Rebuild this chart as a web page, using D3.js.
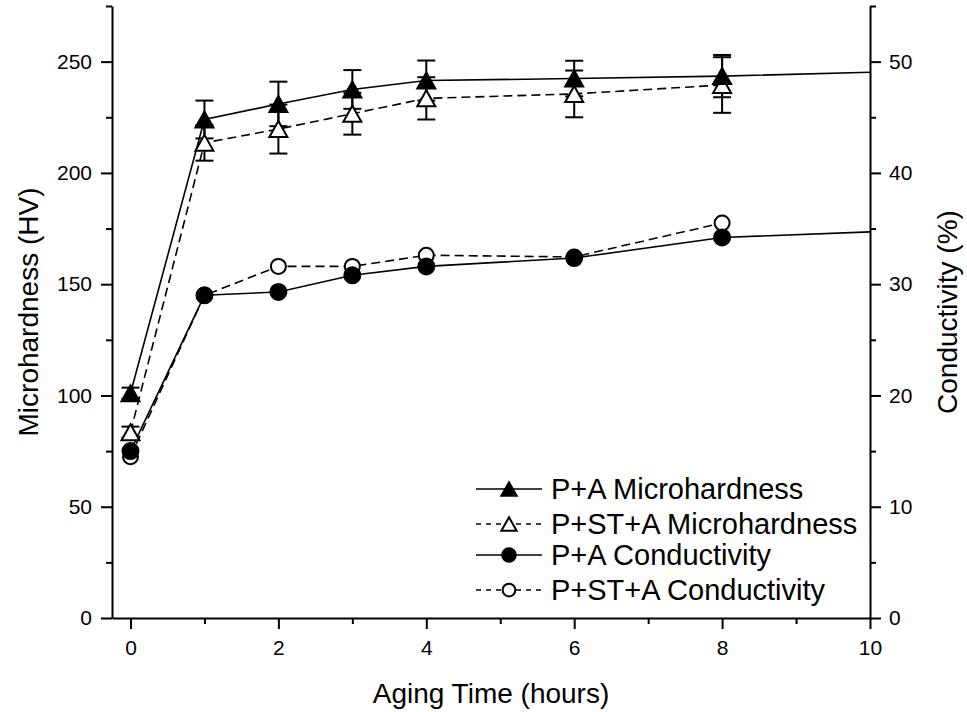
<!DOCTYPE html>
<html>
<head>
<meta charset="utf-8">
<script src="https://cdn.jsdelivr.net/npm/d3@7"></script>
<style>
  body { margin: 0; background: #fff; }
  svg { display: block; }
  text { font-family: "Liberation Sans", Arial, Helvetica, sans-serif; fill: #000; }
</style>
</head>
<body>
<svg id="chart" width="967" height="712"></svg>
<script>
// Aging time (hours) for every measurement
const hours = [0, 1, 2, 3, 4, 6, 8];

// Microhardness (HV) with standard deviation
const paHardness      = [101, 224, 231, 237.5, 241.5, 242.4, 243.5];
const paHardnessErr   = [2.5, 8.5, 10, 8.7, 9, 8, 9.5];
const pstaHardness    = [83.5, 213.5, 219.7, 226.6, 233.5, 235.5, 239.5];
const pstaHardnessErr = [2.5, 8, 11, 9.4, 9.5, 10.5, 12.5];

// Electrical conductivity (%)
const paConductivity   = [15.0, 29.0, 29.3, 30.8, 31.6, 32.35, 34.2];
const pstaConductivity = [14.5, 29.0, 31.6, 31.6, 32.6, 32.45, 35.5];

// The solid P+A curves are continued to the end of the time axis
const trendEndHour = 10;
const paHardnessTrendEnd = 245.2;
const paConductivityTrendEnd = 34.7;

// Tick values
const xTicks = [0, 2, 4, 6, 8, 10];
const xMinorTicks = [1, 3, 5, 7, 9];
const hardTicks = [0, 50, 100, 150, 200, 250];
const hardMinorTicks = [25, 75, 125, 175, 225, 275];
const condTicks = [0, 10, 20, 30, 40, 50];
const condMinorTicks = [5, 15, 25, 35, 45, 55];

const legendLabels = ["P+A Microhardness", "P+ST+A Microhardness", "P+A Conductivity", "P+ST+A Conductivity"];

const svg = d3.select("#chart");

const x = d3.scaleLinear().domain([-0.25, 10]).range([112, 870]);
const yH = d3.scaleLinear().domain([0, 275]).range([618, 6]);
const yC = d3.scaleLinear().domain([0, 55]).range([618, 6]);

const DASH = "9,5";

// ---------- axes ----------
function styleAxis(g, width) {
  g.selectAll("path.domain").attr("stroke", "#000").attr("stroke-width", width);
  g.selectAll(".tick line").attr("stroke", "#000").attr("stroke-width", 2);
  g.selectAll(".tick text").style("font-size", "21px").attr("fill", "#000");
}

// bottom axis
const gx = svg.append("g").attr("transform", "translate(0,618)");
gx.call(d3.axisBottom(x).tickValues(xTicks).tickSize(11).tickSizeOuter(0).tickPadding(11).tickFormat(d3.format("d")));
styleAxis(gx, 2);
const gxm = svg.append("g").attr("transform", "translate(0,618)");
gxm.call(d3.axisBottom(x).tickValues(xMinorTicks).tickSize(6).tickFormat(""));
gxm.select("path.domain").remove();
styleAxis(gxm, 2);

// left axis
const gl = svg.append("g").attr("transform", "translate(112,0)");
gl.call(d3.axisLeft(yH).tickValues(hardTicks).tickSize(11).tickSizeOuter(0).tickPadding(9).tickFormat(d3.format("d")));
styleAxis(gl, 2);
const glm = svg.append("g").attr("transform", "translate(112,0)");
glm.call(d3.axisLeft(yH).tickValues(hardMinorTicks).tickSize(6).tickFormat(""));
glm.select("path.domain").remove();
styleAxis(glm, 2);

// right axis
const gr = svg.append("g").attr("transform", "translate(870,0)");
gr.call(d3.axisRight(yC).tickValues(condTicks).tickSize(11).tickSizeOuter(0).tickPadding(8).tickFormat(d3.format("d")));
styleAxis(gr, 2);
const grm = svg.append("g").attr("transform", "translate(870,0)");
grm.call(d3.axisRight(yC).tickValues(condMinorTicks).tickSize(6).tickFormat(""));
grm.select("path.domain").remove();
styleAxis(grm, 2);

// axis titles
svg.append("text")
  .attr("x", 491).attr("y", 703)
  .attr("text-anchor", "middle")
  .style("font-size", "28px")
  .text("Aging Time (hours)");

svg.append("text")
  .attr("transform", "translate(38,312) rotate(-90)")
  .attr("text-anchor", "middle")
  .style("font-size", "28px")
  .text("Microhardness (HV)");

svg.append("text")
  .attr("transform", "translate(957,312) rotate(-90)")
  .attr("text-anchor", "middle")
  .style("font-size", "28px")
  .text("Conductivity (%)");

// ---------- marker shapes ----------
function trianglePath(w, h) {
  return `M0,${-h / 2}L${w / 2},${h / 2}L${-w / 2},${h / 2}Z`;
}
function drawMarker(g, shape, filled, cx, cy, scale) {
  const s = scale || 1;
  if (shape === "triangle") {
    g.append("path")
      .attr("d", trianglePath(18 * s, 16 * s))
      .attr("transform", `translate(${cx},${cy})`)
      .attr("fill", filled ? "#000" : "#fff")
      .attr("stroke", "#000").attr("stroke-width", 2)
      .attr("stroke-linejoin", "miter");
  } else {
    g.append("circle")
      .attr("cx", cx).attr("cy", cy)
      .attr("r", (filled ? 8 : 7.5) * s)
      .attr("fill", filled ? "#000" : "#fff")
      .attr("stroke", "#000").attr("stroke-width", 2);
  }
}

// ---------- series ----------
const series = [
  { name: legendLabels[1], vals: pstaHardness, err: pstaHardnessErr, y: yH, shape: "triangle", filled: false, dash: DASH },
  { name: legendLabels[3], vals: pstaConductivity, err: null, y: yC, shape: "circle", filled: false, dash: DASH },
  { name: legendLabels[0], vals: paHardness, err: paHardnessErr, y: yH, shape: "triangle", filled: true, dash: null,
    trendEnd: paHardnessTrendEnd },
  { name: legendLabels[2], vals: paConductivity, err: null, y: yC, shape: "circle", filled: true, dash: null,
    trendEnd: paConductivityTrendEnd }
];

const lineGen = d3.line().x(d => x(d[0])).y(d => d[1]);

const gLines = svg.append("g");
const gErr = svg.append("g");
const gMarks = svg.append("g");

series.forEach(s => {
  const pts = hours.map((h, i) => [h, s.y(s.vals[i])]);
  if (s.trendEnd !== undefined) pts.push([trendEndHour, s.y(s.trendEnd)]);
  gLines.append("path")
    .attr("d", lineGen(pts))
    .attr("fill", "none")
    .attr("stroke", "#000")
    .attr("stroke-width", 1.6)
    .attr("stroke-dasharray", s.dash);

  if (s.err) {
    hours.forEach((h, i) => {
      const cx = x(h);
      const top = s.y(s.vals[i] + s.err[i]);
      const bot = s.y(s.vals[i] - s.err[i]);
      gErr.append("line").attr("x1", cx).attr("x2", cx).attr("y1", top).attr("y2", bot)
        .attr("stroke", "#000").attr("stroke-width", 2);
      [top, bot].forEach(yy => {
        gErr.append("line").attr("x1", cx - 9).attr("x2", cx + 9).attr("y1", yy).attr("y2", yy)
          .attr("stroke", "#000").attr("stroke-width", 2);
      });
    });
  }
});

// open markers first, filled on top
series.forEach(s => {
  hours.forEach((h, i) => drawMarker(gMarks, s.shape, s.filled, x(h), s.y(s.vals[i])));
});

// ---------- legend ----------
const legendItems = [
  { label: legendLabels[0], shape: "triangle", filled: true, dash: null },
  { label: legendLabels[1], shape: "triangle", filled: false, dash: "5,5" },
  { label: legendLabels[2], shape: "circle", filled: true, dash: null },
  { label: legendLabels[3], shape: "circle", filled: false, dash: "5,5" }
];
const legendRows = [489, 524, 555, 590];
const gLeg = svg.append("g");
legendItems.forEach((it, i) => {
  const ly = legendRows[i];
  gLeg.append("line")
    .attr("x1", 476).attr("x2", 542).attr("y1", ly).attr("y2", ly)
    .attr("stroke", "#000").attr("stroke-width", 1.6)
    .attr("stroke-dasharray", it.dash);
  drawMarker(gLeg, it.shape, it.filled, 509, ly, 0.85);
  gLeg.append("text")
    .attr("x", 551).attr("y", ly)
    .attr("dy", "0.36em")
    .style("font-size", "29px")
    .text(it.label);
});
</script>
</body>
</html>
